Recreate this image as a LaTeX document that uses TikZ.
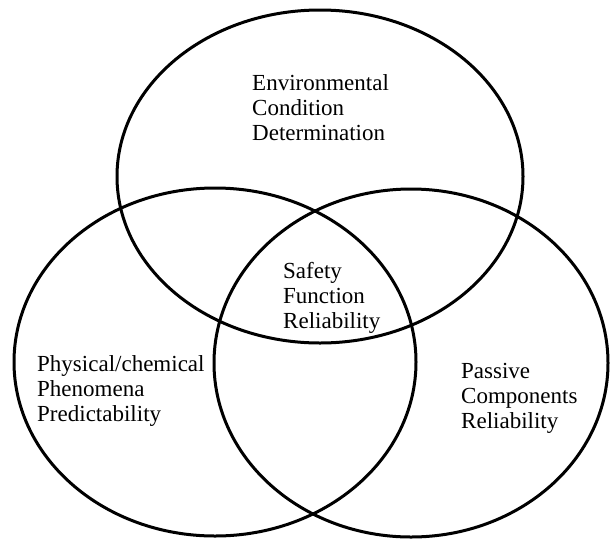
\documentclass[tikz,border=0pt]{standalone}
\usepackage{fontspec}
\setmainfont{Liberation Serif}
\begin{document}
\begin{tikzpicture}[x=1pt,y=-1pt,
  setring/.style={draw=black,line width=3pt},
  label/.style={align=left,inner sep=0pt,anchor=base west,font=\fontsize{23}{25}\selectfont}]
\useasboundingbox (0,0) rectangle (610,539);
\draw[setring] (320,176.5) ellipse [x radius=203, y radius=166.5];
\draw[setring] (215,362) ellipse [x radius=201, y radius=174];
\draw[setring] (411,363) ellipse [x radius=197, y radius=174];
\node[label] (env) at (252,140) {Environmental\\Condition\\Determination};
\node[label] (safe) at (283,328) {Safety\\Function\\Reliability};
\node[label] (phys) at (37,421) {Physical/chemical\\Phenomena\\Predictability};
\node[label] (pass) at (461,428) {Passive\\Components\\Reliability};
\end{tikzpicture}
\end{document}
